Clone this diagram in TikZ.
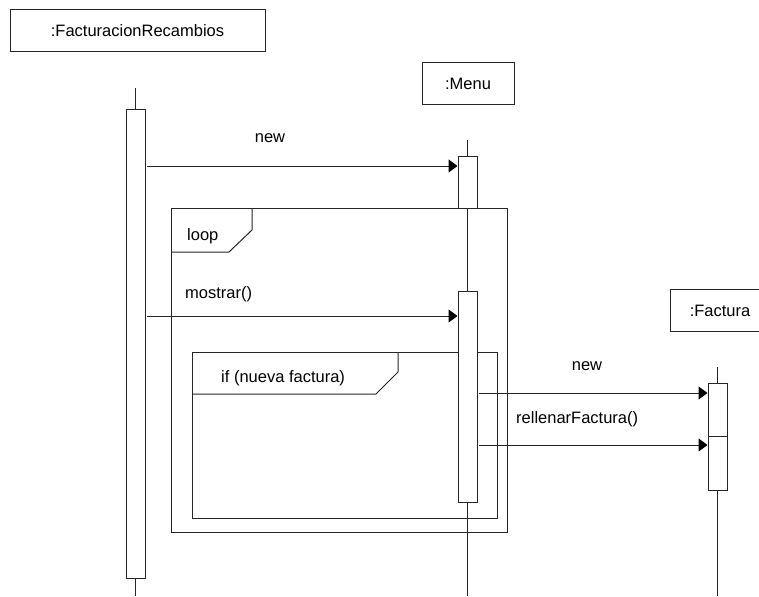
\documentclass[tikz,border=0pt]{standalone}
\usepackage{fontspec}
\setmainfont{Liberation Sans}
\usetikzlibrary{arrows.meta}
\begin{document}
\begin{tikzpicture}[x=1pt,y=-1pt,
  every node/.style={font=\fontsize{16.5}{19}\selectfont},
  ln/.style={draw=black!85, line width=1pt},
  head/.style={ln, rectangle, inner sep=0pt, minimum height=42pt},
  act/.style={ln, rectangle, fill=white, inner sep=0pt, minimum width=19pt},
  msg/.style={ln, -{Triangle[length=9pt,width=13pt,color=black]}},
  lbl/.style={inner sep=0pt, anchor=west},
]
\useasboundingbox (0,0) rectangle (759,596);
\clip (0,0) rectangle (759,596);

% object heads
\node[head, minimum width=255pt] (fr) at (137.5,31) {:FacturacionRecambios};
\node[head, minimum width=92pt] (menu) at (468,84) {:Menu};
\node[head, minimum width=100pt] (fact) at (720,310.5) {:Factura};

% lifelines
\coordinate (frtop) at (135.5,88);
\coordinate (frbot) at (135.5,596);
\coordinate (mntop) at (467.5,140);
\coordinate (mnbot) at (467.5,596);
\coordinate (fctop) at (717.5,367);
\coordinate (fcbot) at (717.5,596);
\draw[ln] (frtop) -- (frbot);
\draw[ln] (mntop) -- (mnbot);
\draw[ln] (fctop) -- (fcbot);

% combined fragments
\coordinate (loopnw) at (171,208);
\coordinate (loopse) at (507,532);
\draw[ln] (loopnw) rectangle (loopse);
\draw[ln] (171,252) -- (229,252) -- (252,230) -- (252,208);
\node[lbl] (looplbl) at (187,236) {loop};

\coordinate (ifnw) at (192,352);
\coordinate (ifse) at (497,518);
\draw[ln] (ifnw) rectangle (ifse);
\draw[ln] (192,394) -- (376,394) -- (398,372) -- (398,352);
\node[lbl] (iflbl) at (221,378) {if (nueva factura)};

% activations
\node[act, minimum height=468pt] (a1) at (135.5,344) {};
\node[act, minimum height=51pt] (m1) at (467.5,182.5) {};
\node[act, minimum height=211pt] (m2) at (467.5,396.5) {};
\node[act, minimum height=53pt] (f1) at (717.5,409.5) {};
\node[act, minimum height=54pt] (f2) at (717.5,463) {};

% messages
\coordinate (s1) at (147,166);
\draw[msg] (s1) -- (s1 -| m1.west);
\node (l1) at (270,138) {new};

\coordinate (s2) at (147,316);
\draw[msg] (s2) -- (s2 -| m2.west);
\node[lbl] (l2) at (185,294) {mostrar()};

\coordinate (s3) at (479,393);
\draw[msg] (s3) -- (s3 -| f1.west);
\node (l3) at (587,366) {new};

\coordinate (s4) at (479,445);
\draw[msg] (s4) -- (s4 -| f2.west);
\node[lbl] (l4) at (516,419) {rellenarFactura()};
\end{tikzpicture}
\end{document}
